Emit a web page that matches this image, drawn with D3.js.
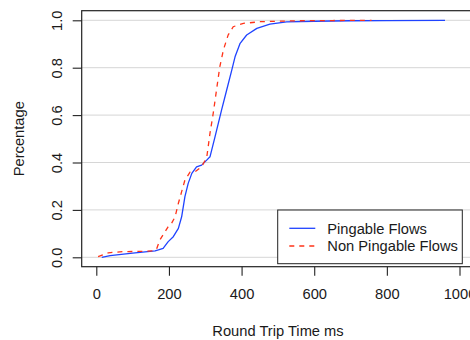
<!DOCTYPE html>
<html>
<head>
<meta charset="utf-8">
<script src="https://cdn.jsdelivr.net/npm/d3@7/dist/d3.min.js"></script>
<style>
  html, body { margin: 0; padding: 0; background: #fff; overflow: hidden; }
  svg { display: block; font-family: "Liberation Sans", Arial, Helvetica, sans-serif; }
</style>
</head>
<body>
<svg id="chart" width="470" height="340"></svg>
<script>
// Empirical CDF of round trip time, two flow groups
const pingableRtt = [15, 38, 100, 162, 171, 184, 198, 212, 226, 235, 244, 253, 263, 276, 290, 304, 313, 327, 345, 359, 373, 382, 396, 414, 442, 478, 524, 600, 700, 800, 960];
const pingableCdf = [0, 0.007, 0.018, 0.027, 0.031, 0.038, 0.066, 0.087, 0.122, 0.171, 0.256, 0.312, 0.354, 0.382, 0.389, 0.41, 0.424, 0.509, 0.622, 0.706, 0.79, 0.846, 0.903, 0.938, 0.966, 0.984, 0.993, 0.996, 0.998, 0.999, 1.0];

const nonPingableRtt = [5, 33, 74, 120, 157, 166, 175, 198, 207, 217, 226, 235, 244, 258, 272, 290, 304, 313, 322, 331, 340, 350, 363, 377, 405, 451, 550, 650, 758];
const nonPingableCdf = [0.003, 0.019, 0.024, 0.025, 0.027, 0.035, 0.073, 0.129, 0.143, 0.171, 0.228, 0.277, 0.326, 0.359, 0.361, 0.382, 0.421, 0.523, 0.608, 0.706, 0.804, 0.875, 0.938, 0.973, 0.987, 0.994, 0.998, 0.999, 1.0];

const xTicks = [0, 200, 400, 600, 800, 1000];
const yTicks = [0, 0.2, 0.4, 0.6, 0.8, 1.0];
const seriesNames = ["Pingable Flows", "Non Pingable Flows"];

const svg = d3.select("#chart");
const fontSize = 14.7;
const ink = "#1a1a1a";

// plot region (right edge runs slightly past the canvas)
const box = { left: 81.7, top: 10.7, right: 476, bottom: 266.7 };

const x = d3.scaleLinear().domain([0, 1000]).range([96.3, 459.5]);
const y = d3.scaleLinear().domain([0, 1]).range([257.3, 20.3]);

// horizontal grid
svg.append("g")
  .selectAll("line")
  .data(yTicks)
  .join("line")
  .attr("x1", box.left).attr("x2", box.right)
  .attr("y1", d => y(d)).attr("y2", d => y(d))
  .attr("stroke", "#d6d6d6").attr("stroke-width", 1);

// curves
const line = d3.line().x(d => x(d[0])).y(d => y(d[1]));

svg.append("path")
  .datum(d3.zip(pingableRtt, pingableCdf))
  .attr("d", line)
  .attr("fill", "none")
  .attr("stroke", "#1f43ff")
  .attr("stroke-width", 1.3)
  .attr("stroke-linejoin", "round");

svg.append("path")
  .datum(d3.zip(nonPingableRtt, nonPingableCdf))
  .attr("d", line)
  .attr("fill", "none")
  .attr("stroke", "#ff3318")
  .attr("stroke-width", 1.3)
  .attr("stroke-dasharray", "5,5");

// frame
svg.append("rect")
  .attr("x", box.left).attr("y", box.top)
  .attr("width", box.right - box.left).attr("height", box.bottom - box.top)
  .attr("fill", "none").attr("stroke", "#222").attr("stroke-width", 1.2);

// x axis
const gx = svg.append("g")
  .attr("transform", `translate(0,${box.bottom})`)
  .call(d3.axisBottom(x).tickValues(xTicks).tickSize(9).tickFormat(d3.format("d")));
gx.select(".domain").remove();
gx.selectAll(".tick line").attr("stroke", "#222").attr("stroke-width", 1.1);
gx.selectAll(".tick text")
  .attr("y", 32.6).attr("dy", 0)
  .attr("fill", ink)
  .style("font-size", fontSize + "px")
  .style("font-family", "Liberation Sans, Arial, sans-serif");

// y axis
const gy = svg.append("g")
  .attr("transform", `translate(${box.left},0)`)
  .call(d3.axisLeft(y).tickValues(yTicks).tickSize(9).tickFormat(d3.format(".1f")));
gy.select(".domain").remove();
gy.selectAll(".tick line").attr("stroke", "#222").attr("stroke-width", 1.1);
gy.selectAll(".tick text")
  .attr("x", 0).attr("y", 0).attr("dy", 0)
  .attr("text-anchor", "middle")
  .attr("transform", "translate(-20,0) rotate(-90)")
  .attr("fill", ink)
  .style("font-size", fontSize + "px")
  .style("font-family", "Liberation Sans, Arial, sans-serif");

// axis titles
svg.append("text")
  .attr("x", 278).attr("y", 335.7)
  .attr("text-anchor", "middle")
  .attr("fill", ink)
  .style("font-size", fontSize + "px")
  .text("Round Trip Time ms");

svg.append("text")
  .attr("transform", `translate(24,${(box.top + box.bottom) / 2}) rotate(-90)`)
  .attr("text-anchor", "middle")
  .attr("fill", ink)
  .style("font-size", fontSize + "px")
  .text("Percentage");

// legend
const legend = svg.append("g");
legend.append("rect")
  .attr("x", 277.7).attr("y", 210)
  .attr("width", 184.6).attr("height", 53.7)
  .attr("fill", "#fff").attr("stroke", "#222").attr("stroke-width", 1);

const legendItems = [
  { name: seriesNames[0], color: "#1f43ff", dash: null },
  { name: seriesNames[1], color: "#ff3318", dash: "5,5" }
];
legendItems.forEach((item, i) => {
  const ly = 228.3 + i * 17.7;
  legend.append("line")
    .attr("x1", 289.3).attr("x2", 315.3)
    .attr("y1", ly).attr("y2", ly)
    .attr("stroke", item.color).attr("stroke-width", 1.3)
    .attr("stroke-dasharray", item.dash);
  legend.append("text")
    .attr("x", 327.3).attr("y", ly + 5.2)
    .attr("fill", ink)
    .style("font-size", fontSize + "px")
    .text(item.name);
});
</script>
</body>
</html>
